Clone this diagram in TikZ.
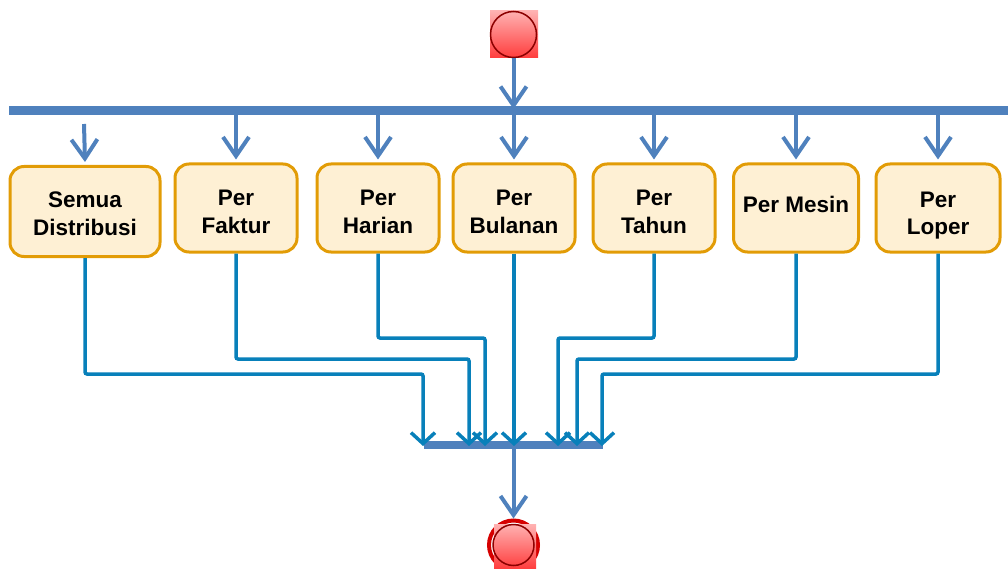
\documentclass[tikz,border=0pt]{standalone}
\usepackage{fontspec}
\setmainfont{Liberation Sans}
\usetikzlibrary{arrows.meta}
\definecolor{barblue}{RGB}{79,129,189}
\definecolor{linkblue}{RGB}{8,128,186}
\definecolor{boxfill}{RGB}{254,240,212}
\definecolor{boxdraw}{RGB}{226,156,6}
\definecolor{pinktop}{RGB}{255,178,178}
\definecolor{redbot}{RGB}{255,60,60}
\definecolor{darkred}{RGB}{140,0,0}
\definecolor{ringred}{RGB}{214,0,0}
\tikzset{
  actbox/.style={draw=boxdraw, line width=3pt, fill=boxfill, rounded corners=14pt,
    minimum height=88pt, inner sep=0pt},
  acttext/.style={align=center, font=\fontsize{22.5}{27.5}\selectfont\bfseries, inner sep=0pt},
  syncbar/.style={draw=barblue, line width=9pt},
  toparrow/.style={draw=barblue, line width=4pt, -{Straight Barb[length=19pt,width=26pt,line width=4pt]}},
  joinarrow/.style={draw=linkblue, line width=3.5pt, rounded corners=2pt, -{Straight Barb[length=11pt,width=24pt,line width=3.5pt]}},
}
\begin{document}
\begin{tikzpicture}[x=1pt,y=-1pt]
\useasboundingbox (0,0) rectangle (1008,569);
% start node
\shade[top color=pinktop, bottom color=redbot] (490,11) rectangle (538,58);
\node[circle, draw=darkred, line width=1.5pt, minimum size=46pt, inner sep=0pt] (start) at (513.5,34.5) {};
% fork bar
\coordinate (forkL) at (9,110.5);
\coordinate (forkR) at (1008,110.5);
\draw[syncbar] (forkL) -- (forkR);
% boxes
\node[actbox, minimum width=150pt, minimum height=90pt] (b1) at (85,211.5) {};
\node[actbox, minimum width=122pt] (b2) at (236,208) {};
\node[actbox, minimum width=122pt] (b3) at (378,208) {};
\node[actbox, minimum width=122pt] (b4) at (514,208) {};
\node[actbox, minimum width=122pt] (b5) at (654,208) {};
\node[actbox, minimum width=125pt] (b6) at (796,208) {};
\node[actbox, minimum width=124pt] (b7) at (938,208) {};
\node[acttext] (t1) at (85,214) {Semua\\Distribusi};
\node[acttext] (t2) at (236,212) {Per\\Faktur};
\node[acttext] (t3) at (378,212) {Per\\Harian};
\node[acttext] (t4) at (514,212) {Per\\Bulanan};
\node[acttext] (t5) at (654,212) {Per\\Tahun};
\node[acttext] (t6) at (796,204) {Per Mesin};
\node[acttext] (t7) at (938,215.5) {Per\\Loper};
% top arrows
\coordinate (f1) at (84,124);
\draw[toparrow] (start.south) -- (513.5,109);
\draw[toparrow] (f1) -- ([yshift=3pt]b1.north);
\foreach \b/\x in {b2/236,b3/378,b4/514,b5/654,b6/796,b7/938}{
  \draw[toparrow] (\x,114) -- ([yshift=3pt]\b.north);
}
% join bar
\coordinate (joinL) at (424,445);
\coordinate (joinR) at (603,445);
\coordinate (joinM) at (513.5,449);
\draw[draw=barblue, line width=8pt] (joinL) -- (joinR);
% joining connectors
\draw[joinarrow] (b1.south) |- (423,374) -- (423,446);
\draw[joinarrow] (b2.south) |- (469,359) -- (469,446);
\draw[joinarrow] (b3.south) |- (485,338) -- (485,446);
\draw[joinarrow] (b4.south) -- (514,446);
\draw[joinarrow] (b5.south) |- (558,338) -- (558,446);
\draw[joinarrow] (b6.south) |- (577,359) -- (577,446);
\draw[joinarrow] (b7.south) |- (602,374) -- (602,446);
% end node
\node[circle, draw=ringred, line width=4pt, minimum size=49pt, inner sep=0pt] (end) at (513.5,545) {};
\shade[top color=pinktop, bottom color=redbot] (494,524) rectangle (536,569);
\node[circle, draw=darkred, line width=1.5pt, minimum size=41pt, inner sep=0pt] (endin) at (513.5,545) {};
\draw[toparrow] (joinM) -- (end.north);
\end{tikzpicture}
\end{document}
